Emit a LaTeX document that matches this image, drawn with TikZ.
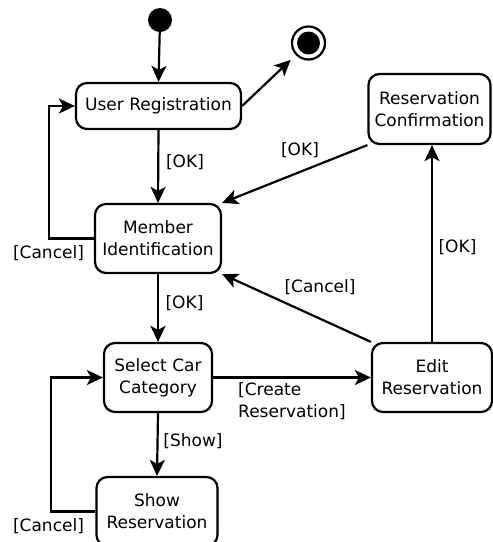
\documentclass[tikz,border=0pt]{standalone}
\usepackage{fontspec}
\setmainfont{DejaVu Sans}
\usetikzlibrary{arrows.meta}
\begin{document}
\begin{tikzpicture}[x=1pt,y=-1pt,
  txt/.style={font=\fontsize{17}{22}\selectfont},
  state/.style={txt, draw, line width=2.2pt, rounded corners=11pt, align=center, inner sep=0pt},
  lbl/.style={txt, inner sep=0pt},
  flow/.style={line width=2.2pt, -{Stealth[length=16pt,width=15pt,inset=4pt]}}
]
\useasboundingbox (0,0) rectangle (493,542);

% start and end markers
\node[circle, fill, minimum size=24pt, inner sep=0pt] (start) at (160,20) {};
\node[circle, draw, line width=2.2pt, minimum size=33pt, inner sep=0pt] (stop) at (308.5,43) {};
\node[circle, fill, minimum size=23pt, inner sep=0pt] (stopcore) at (stop) {};

% states
\node[state, minimum width=165pt, minimum height=46pt] (ur) at (158.5,106) {User Registration};
\node[state, minimum width=122pt, minimum height=70pt] (rc) at (429.5,109) {Reservation\\Confirmation};
\node[state, minimum width=126pt, minimum height=69pt] (mi) at (158,238.5) {Member\\Identification};
\node[state, minimum width=108pt, minimum height=69pt] (scc) at (158,377.5) {Select Car\\Category};
\node[state, minimum width=120pt, minimum height=69pt] (er) at (432,377.5) {Edit\\Reservation};
\node[state, minimum width=121pt, minimum height=69pt] (sr) at (157,511.5) {Show\\Reservation};

% loop corners
\coordinate (c1) at (49,238.5);
\coordinate (c2) at (49,106);
\coordinate (c3) at (51,511.5);
\coordinate (c4) at (51,377.5);

% transitions
\draw[flow] (start) -- (ur.north);
\draw[flow, shorten >=7pt] (ur.east) -- (stop);
\draw[flow] (ur.south) -- (mi.north);
\draw[flow] (rc.south west) -- (mi.north east);
\draw[flow] (mi.west) -- (c1) -- (c2) -- (ur.west);
\draw[flow] (mi.south) -- (scc.north);
\draw[flow] (er.north west) -- (mi.south east);
\draw[flow] (er.north) -- (er.north |- rc.south);
\draw[flow] (scc.east) -- (er.west);
\draw[flow] (scc.south) -- (sr.north);
\draw[flow] (sr.west) -- (c3) -- (c4) -- (scc.west);

% guard labels
\node[lbl] (l1) at (185,162) {[OK]};
\node[lbl] (l2) at (300,150) {[OK]};
\node[lbl] (l3) at (48.5,253) {[Cancel]};
\node[lbl] (l4) at (184.5,303) {[OK]};
\node[lbl] (l5) at (320,287.5) {[Cancel]};
\node[lbl] (l6) at (457.5,247) {[OK]};
\node[lbl, align=left, anchor=west] (l7) at (238,401) {[Create\\Reservation]};
\node[lbl] (l8) at (193,441) {[Show]};
\node[lbl] (l9) at (48.5,526) {[Cancel]};
\end{tikzpicture}
\end{document}
